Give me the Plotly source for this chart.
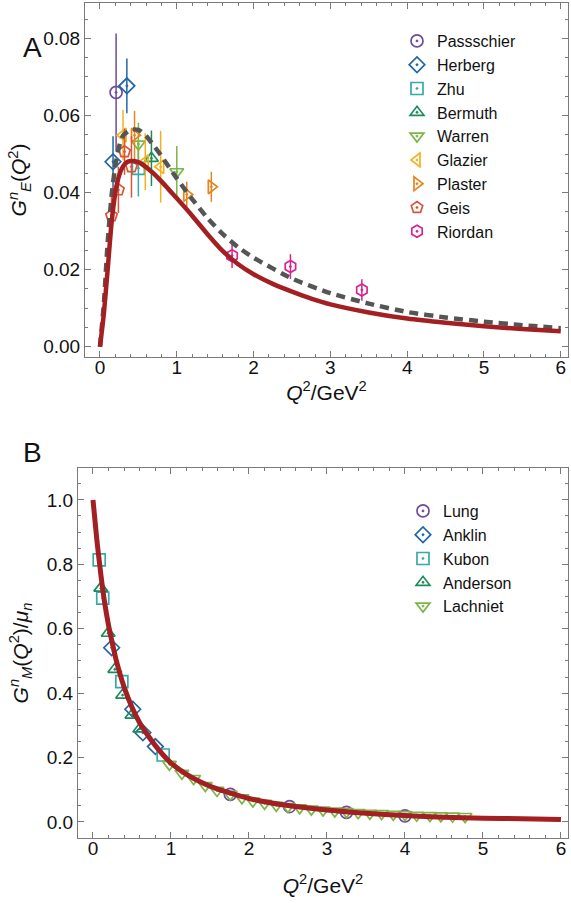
import plotly.graph_objects as go

# ---------------- Panel A : G_E^n ----------------
qa_model = [0, 0.05, 0.1, 0.15, 0.2, 0.25, 0.3, 0.35, 0.4, 0.5, 0.6, 0.7, 0.8, 0.9, 1.0, 1.2, 1.4, 1.6, 1.8, 2.0, 2.25, 2.5, 2.75, 3.0, 3.5, 4.0, 4.5, 5.0, 5.5, 6.0]
ge_model = [0, 0.0085, 0.0200, 0.0320, 0.0400, 0.0445, 0.0468, 0.0479, 0.0482, 0.0479, 0.0466, 0.0449, 0.0429, 0.0407, 0.0385, 0.0340, 0.0292, 0.0248, 0.0214, 0.0188, 0.0163, 0.0143, 0.0125, 0.0110, 0.0089, 0.0073, 0.0062, 0.0053, 0.0046, 0.0040]
qa_fit = [0, 0.05, 0.1, 0.15, 0.2, 0.25, 0.3, 0.4, 0.5, 0.6, 0.7, 0.8, 1.0, 1.2, 1.4, 1.6, 1.8, 2.0, 2.5, 3.0, 3.5, 4.0, 4.5, 5.0, 5.5, 6.0]
ge_fit = [0, 0.011, 0.027, 0.039, 0.047, 0.052, 0.0548, 0.0563, 0.0563, 0.0547, 0.0522, 0.0495, 0.0437, 0.0383, 0.0334, 0.0292, 0.0258, 0.0231, 0.0177, 0.0139, 0.0112, 0.0090, 0.0076, 0.0065, 0.0056, 0.0048]

passschier_q2 = [0.21]; passschier_ge = [0.066]; passschier_err = [0.0153]
herberg_q2 = [0.17, 0.35]; herberg_ge = [0.048, 0.0677]; herberg_err = [0.0066, 0.0071]
zhu_q2 = [0.50]; zhu_ge = [0.0463]; zhu_err = [0.0073]
bermuth_q2 = [0.67]; bermuth_ge = [0.0489]; bermuth_err = [0.0072]
warren_q2 = [0.50, 1.0]; warren_ge = [0.0526, 0.0454]; warren_err = [0.0055, 0.0067]
glazier_q2 = [0.30, 0.59, 0.79]; glazier_ge = [0.0549, 0.0480, 0.0467]; glazier_err = [0.0065, 0.0074, 0.0093]
plaster_q2 = [0.45, 1.13, 1.45]; plaster_ge = [0.0549, 0.0395, 0.0415]; plaster_err = [0.0063, 0.0033, 0.0039]
geis_q2 = [0.15, 0.24, 0.32, 0.41]; geis_ge = [0.034, 0.0407, 0.0506, 0.0467]; geis_err = [0.0050, 0.0060, 0.0060, 0.0080]
riordan_q2 = [1.72, 2.48, 3.41]; riordan_ge = [0.0236, 0.0208, 0.0147]; riordan_err = [0.0032, 0.0032, 0.0028]

# ---------------- Panel B : G_M^n / mu_n ----------------
qb_model = [0, 0.05, 0.1, 0.15, 0.2, 0.25, 0.3, 0.4, 0.5, 0.6, 0.7, 0.8, 0.9, 1.0, 1.2, 1.4, 1.6, 1.8, 2.0, 2.5, 3.0, 3.5, 4.0, 4.5, 5.0, 5.5, 6.0]
gm_model = [1.0, 0.875, 0.77, 0.68, 0.61, 0.553, 0.50, 0.418, 0.356, 0.307, 0.270, 0.237, 0.208, 0.183, 0.148, 0.122, 0.102, 0.087, 0.073, 0.051, 0.037, 0.027, 0.020, 0.015, 0.012, 0.010, 0.008]

lung_q2 = [1.76, 2.52, 3.25, 4.0]; lung_gm = [0.086, 0.048, 0.030, 0.019]
anklin_q2 = [0.24, 0.51, 0.64, 0.80]; anklin_gm = [0.541, 0.350, 0.277, 0.234]
kubon_q2 = [0.08, 0.125, 0.37, 0.90]; kubon_gm = [0.814, 0.695, 0.436, 0.208]
anderson_q2 = [0.10, 0.195, 0.28, 0.38, 0.50, 0.60]; anderson_gm = [0.726, 0.586, 0.474, 0.394, 0.332, 0.289]
lachniet_q2 = [0.98, 1.14, 1.29, 1.44, 1.59, 1.76, 1.91, 2.05, 2.20, 2.35, 2.50, 2.65, 2.80, 2.95, 3.10, 3.25, 3.40, 3.55, 3.70, 3.85, 4.00, 4.15, 4.32, 4.46, 4.61, 4.77]
lachniet_gm = [0.179, 0.151, 0.135, 0.113, 0.098, 0.086, 0.075, 0.065, 0.058, 0.052, 0.048, 0.044, 0.040, 0.037, 0.034, 0.032, 0.029, 0.027, 0.026, 0.024, 0.023, 0.021, 0.020, 0.019, 0.018, 0.017]

xticks = [0, 1, 2, 3, 4, 5, 6]
ya_ticks = [0.00, 0.02, 0.04, 0.06, 0.08]
yb_ticks = [0.0, 0.2, 0.4, 0.6, 0.8, 1.0]

FONT = "Liberation Sans, Arial, Helvetica, sans-serif"
RED = "#A31F22"
GRAY = "#555555"

fig = go.Figure()

setA = [
    ("Passschier", passschier_q2, passschier_ge, passschier_err, "circle-open-dot", "#6B4C9A"),
    ("Herberg", herberg_q2, herberg_ge, herberg_err, "diamond-open-dot", "#2166A3"),
    ("Zhu", zhu_q2, zhu_ge, zhu_err, "square-open-dot", "#36A9A8"),
    ("Bermuth", bermuth_q2, bermuth_ge, bermuth_err, "triangle-up-open-dot", "#1C8B5B"),
    ("Warren", warren_q2, warren_ge, warren_err, "triangle-down-open-dot", "#7AB648"),
    ("Glazier", glazier_q2, glazier_ge, glazier_err, "triangle-left-open-dot", "#F2B11C"),
    ("Plaster", plaster_q2, plaster_ge, plaster_err, "triangle-right-open-dot", "#E8841C"),
    ("Geis", geis_q2, geis_ge, geis_err, "pentagon-open-dot", "#D9553A"),
    ("Riordan", riordan_q2, riordan_ge, riordan_err, "hexagon-open-dot", "#D6248E"),
]
for name, x, y, e, sym, col in setA:
    fig.add_trace(go.Scatter(
        x=x, y=y, mode="markers", name=name, legend="legend",
        marker=dict(symbol=sym, size=12, color=col, line=dict(width=1.7, color=col)),
        error_y=dict(type="data", array=e, visible=True, color=col, thickness=1.5, width=0),
        xaxis="x", yaxis="y"))

fig.add_trace(go.Scatter(x=qa_fit, y=ge_fit, mode="lines", showlegend=False,
                         line=dict(color=GRAY, width=4.5, dash="9px,6px", shape="spline", smoothing=0.6),
                         xaxis="x", yaxis="y"))
fig.add_trace(go.Scatter(x=qa_model, y=ge_model, mode="lines", showlegend=False,
                         line=dict(color=RED, width=4.5, shape="spline", smoothing=0.6),
                         xaxis="x", yaxis="y"))

setB = [
    ("Lung", lung_q2, lung_gm, "circle-open-dot", "#6B4C9A"),
    ("Anklin", anklin_q2, anklin_gm, "diamond-open-dot", "#2166A3"),
    ("Kubon", kubon_q2, kubon_gm, "square-open-dot", "#36A9A8"),
    ("Anderson", anderson_q2, anderson_gm, "triangle-up-open-dot", "#1C8B5B"),
    ("Lachniet", lachniet_q2, lachniet_gm, "triangle-down-open-dot", "#7AB648"),
]
for name, x, y, sym, col in setB:
    fig.add_trace(go.Scatter(
        x=x, y=y, mode="markers", name=name, legend="legend2",
        marker=dict(symbol=sym, size=12, color=col, line=dict(width=1.7, color=col)),
        xaxis="x2", yaxis="y2"))

fig.add_trace(go.Scatter(x=qb_model, y=gm_model, mode="lines", showlegend=False,
                         line=dict(color=RED, width=5, shape="spline", smoothing=0.6),
                         xaxis="x2", yaxis="y2"))

W, H = 571, 904
axcol = "#7a7a7a"
common = dict(showgrid=False, zeroline=False, showline=True, linecolor=axcol, linewidth=1,
              mirror="allticks", ticks="inside", ticklen=6, tickcolor=axcol, tickwidth=1,
              automargin=False,
              tickfont=dict(family=FONT, size=19, color="#111"))
TF = dict(family=FONT, size=21, color="#111")

fig.update_layout(
    width=W, height=H, margin=dict(l=0, r=0, t=0, b=0, autoexpand=False),
    paper_bgcolor="white", plot_bgcolor="white",
    font=dict(family=FONT, color="#111"),
    xaxis=dict(domain=[85 / W, 568 / W], anchor="y", range=[-0.195, 6.094],
               tickvals=xticks, ticktext=[str(v) for v in xticks], ticklabelstandoff=-7,
               minor=dict(dtick=0.2, ticklen=3, ticks="inside", tickcolor=axcol),
               title=dict(text="<i>Q</i><sup>2</sup>/GeV<sup>2</sup>", font=TF, standoff=1),
               **common),
    yaxis=dict(domain=[1 - 357 / H, 1 - 3 / H], anchor="x", range=[-0.00267, 0.0892],
               tickvals=ya_ticks, ticktext=["%.2f" % v for v in ya_ticks],
               minor=dict(dtick=0.005, ticklen=3, ticks="inside", tickcolor=axcol),
               title=dict(text="<i>G</i><sup><i>n</i></sup><sub><i>E</i></sub>(<i>Q</i><sup>2</sup>)",
                          font=TF, standoff=10),
               **common),
    xaxis2=dict(domain=[78 / W, 568 / W], anchor="y2", range=[-0.192, 6.09],
                tickvals=xticks, ticktext=[str(v) for v in xticks], ticklabelstandoff=-7,
                minor=dict(dtick=0.2, ticklen=3, ticks="inside", tickcolor=axcol),
                title=dict(text="<i>Q</i><sup>2</sup>/GeV<sup>2</sup>", font=TF, standoff=20),
                **common),
    yaxis2=dict(domain=[1 - 838 / H, 1 - 468 / H], anchor="x2", range=[-0.0497, 1.099],
                tickvals=yb_ticks, ticktext=["%.1f" % v for v in yb_ticks],
                minor=dict(dtick=0.05, ticklen=3, ticks="inside", tickcolor=axcol),
                title=dict(text="<i>G</i><sup><i>n</i></sup><sub><i>M</i></sub>(<i>Q</i><sup>2</sup>)/<i>μ</i><sub><i>n</i></sub>",
                           font=TF, standoff=12),
                **common),
    legend=dict(x=397 / W, y=1 - 24 / H, xanchor="left", yanchor="top",
                bgcolor="rgba(0,0,0,0)", font=dict(family=FONT, size=16, color="#111"),
                tracegroupgap=0, itemsizing="trace"),
    legend2=dict(x=403 / W, y=1 - 494 / H, xanchor="left", yanchor="top",
                 bgcolor="rgba(0,0,0,0)", font=dict(family=FONT, size=16, color="#111"),
                 tracegroupgap=0, itemsizing="trace"),
    annotations=[
        dict(text="A", x=32 / W, y=1 - 47 / H, xref="paper", yref="paper", showarrow=False,
             font=dict(family=FONT, size=28, color="#111"), xanchor="center", yanchor="middle"),
        dict(text="B", x=32 / W, y=1 - 452 / H, xref="paper", yref="paper", showarrow=False,
             font=dict(family=FONT, size=28, color="#111"), xanchor="center", yanchor="middle"),
    ],
)

fig.write_html("out.html", config={"displayModeBar": False},
               post_script="document.body.style.margin='0px';")
